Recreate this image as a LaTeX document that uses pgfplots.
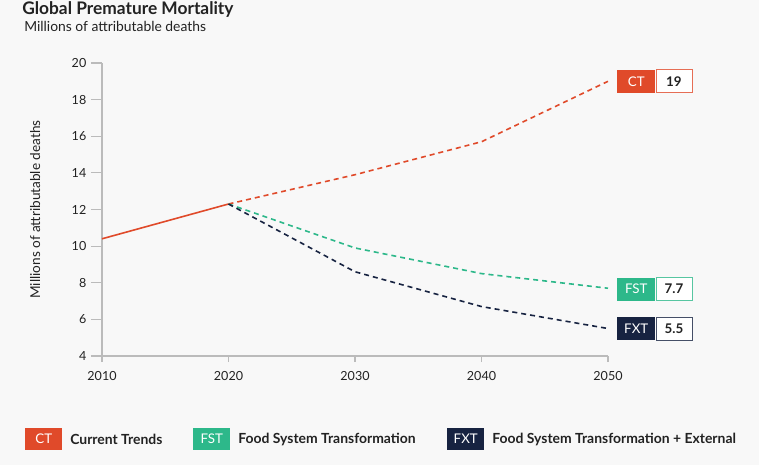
\documentclass[border=0pt]{standalone}
\usepackage{pgfplots}
\pgfplotsset{compat=1.18}
\usepackage{fontspec}
\setmainfont{Lato}
\definecolor{bg}{HTML}{F8F8F8}
\definecolor{ct}{HTML}{E04A2A}
\definecolor{fst}{HTML}{2DB88A}
\definecolor{fxt}{HTML}{172341}
\definecolor{txt}{HTML}{222222}
\definecolor{axc}{HTML}{BBBBBB}
\begin{document}
\begin{tikzpicture}[x=0.75pt,y=0.75pt]
\fill[bg] (0,0) rectangle (759,465);
\node[anchor=base west, inner sep=0, font=\bfseries\fontsize{13}{15}\selectfont, text=txt] at (22,450) {Global Premature Mortality};
\node[anchor=base west, inner sep=0, font=\fontsize{10.4}{12}\selectfont, text=txt] at (24,433) {Millions of attributable deaths};
\begin{axis}[
  at={(76.5pt,81.75pt)}, anchor=south west,
  scale only axis, width=379.5pt, height=219.75pt,
  xmin=2010, xmax=2050, ymin=4, ymax=20,
  xtick={2010,2020,2030,2040,2050}, ytick={4,6,...,20},
  axis x line*=bottom, axis y line*=left,
  axis line style={axc, line width=0.8pt, -},
  tick style={axc, line width=0.8pt},
  tick align=outside, major tick length=8.25pt,
  xtick style={/pgfplots/major tick length=4.5pt},
  /pgf/number format/assume math mode=true,
  /pgf/number format/1000 sep={},
  ticklabel style={font=\fontsize{9.4}{11}\selectfont, text=txt},
  ylabel={Millions of attributable deaths},
  ylabel style={font=\fontsize{10.2}{11}\selectfont, text=txt, at={(axis description cs:-0.132,0.5)}, anchor=center},
  clip=false,
]
\addplot[ct, line width=1.2pt] coordinates {(2010,10.4)(2020,12.3)};
\addplot[ct, line width=1.2pt, dash pattern=on 3.75pt off 3pt] coordinates {(2020,12.3)(2030,13.9)(2040,15.7)(2050,19.0)};
\addplot[fst, line width=1.2pt, dash pattern=on 3.75pt off 3pt] coordinates {(2020,12.3)(2030,9.9)(2040,8.5)(2050,7.7)};
\addplot[fxt, line width=1.2pt, dash pattern=on 3.75pt off 3pt] coordinates {(2020,12.3)(2030,8.6)(2040,6.7)(2050,5.5)};
\node[fill=ct, text=white, anchor=west, minimum width=28.5pt, minimum height=17.25pt, inner sep=0, font=\fontsize{10}{11}\selectfont, xshift=6.75pt] (a) at (axis cs:2050,19) {CT};
\node[fill=white, draw=ct!80, line width=0.6pt, anchor=west, minimum width=27pt, minimum height=17.25pt, inner sep=0, font=\bfseries\fontsize{10}{11}\selectfont, text=txt] at (a.east) {19};
\node[fill=fst, text=white, anchor=west, minimum width=28.5pt, minimum height=17.25pt, inner sep=0, font=\fontsize{10}{11}\selectfont, xshift=6.75pt] (b) at (axis cs:2050,7.65) {FST};
\node[fill=white, draw=fst!80, line width=0.6pt, anchor=west, minimum width=27pt, minimum height=17.25pt, inner sep=0, font=\bfseries\fontsize{10}{11}\selectfont, text=txt] at (b.east) {7.7};
\node[fill=fxt, text=white, anchor=west, minimum width=28.5pt, minimum height=17.25pt, inner sep=0, font=\fontsize{10}{11}\selectfont, xshift=6.75pt] (c) at (axis cs:2050,5.5) {FXT};
\node[fill=white, draw=fxt!80, line width=0.6pt, anchor=west, minimum width=27pt, minimum height=17.25pt, inner sep=0, font=\bfseries\fontsize{10}{11}\selectfont, text=txt] at (c.east) {5.5};
\end{axis}
\begin{scope}[every node/.style={inner sep=0}]
\node[fill=ct, text=white, minimum width=27.75pt, minimum height=16.5pt, font=\fontsize{10}{11}\selectfont, anchor=west] at (25,26) {CT};
\node[anchor=west, text=txt, font=\bfseries\fontsize{10.45}{12}\selectfont] at (70,26) {Current Trends};
\node[fill=fst, text=white, minimum width=27.75pt, minimum height=16.5pt, font=\fontsize{10}{11}\selectfont, anchor=west] at (193,26) {FST};
\node[anchor=west, text=txt, font=\bfseries\fontsize{10.45}{12}\selectfont] at (238,26) {Food System Transformation};
\node[fill=fxt, text=white, minimum width=27.75pt, minimum height=16.5pt, font=\fontsize{10}{11}\selectfont, anchor=west] at (447,26) {FXT};
\node[anchor=west, text=txt, font=\bfseries\fontsize{10.45}{12}\selectfont] at (492,26) {Food System Transformation + External};
\end{scope}
\end{tikzpicture}
\end{document}
